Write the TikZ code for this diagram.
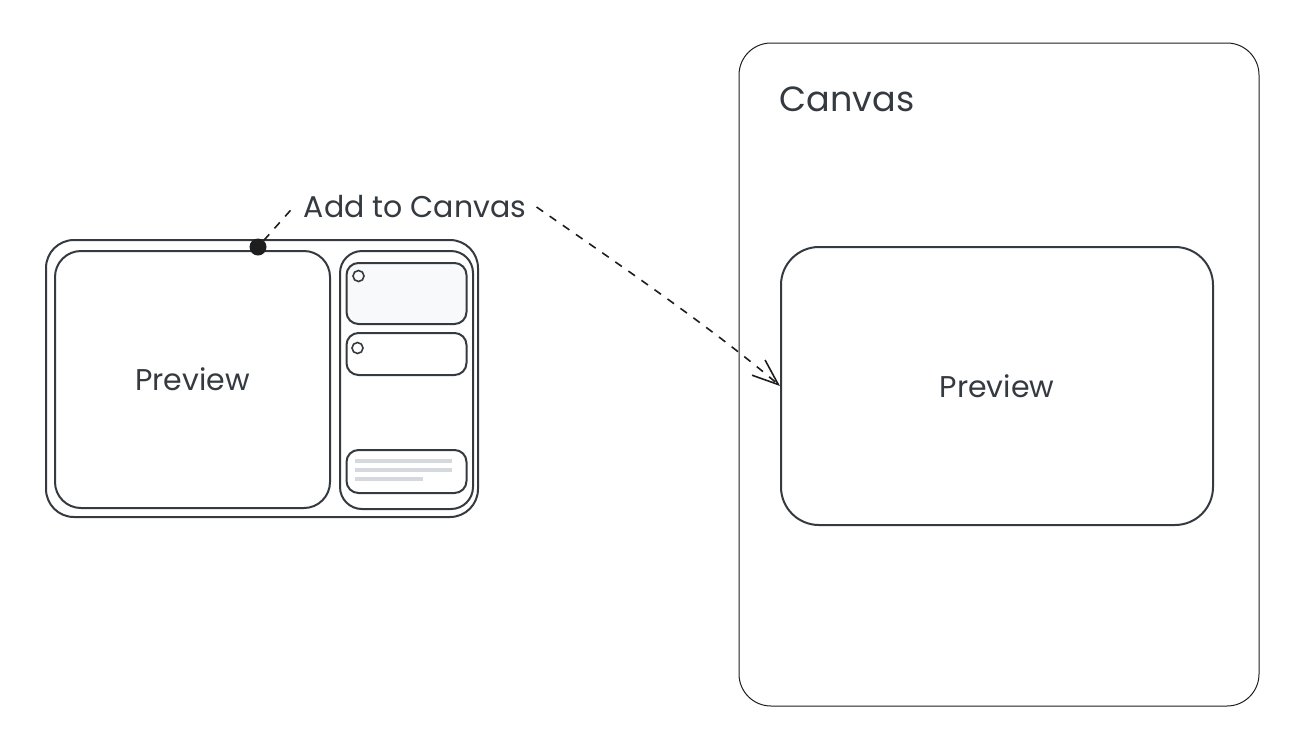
\documentclass[tikz,border=0pt]{standalone}
\usepackage{fontspec}
\setmainfont{Poppins}
\usepackage{tikz}
\usetikzlibrary{arrows.meta,positioning}
\definecolor{Ink}   {HTML}{343A40}
\definecolor{Dark}  {HTML}{1E1E1E}
\definecolor{CardBg}{HTML}{F8F9FA}
\definecolor{BarGr} {HTML}{D5D8DC}

\begin{document}
\begin{tikzpicture}[x=0.5pt,y=-0.5pt,
  shell/.style={draw=Ink,line width=1pt,rectangle,rounded corners=14pt,
    minimum width=216pt,minimum height=138.5pt,inner sep=0pt},
  pane/.style={draw=Ink,line width=1pt,rectangle,rounded corners=13pt,
    font=\fontsize{15}{18}\selectfont\color{Ink},inner sep=0pt},
  card/.style={draw=Ink,line width=1pt,rectangle,rounded corners=6pt,
    minimum width=60pt,inner sep=0pt},
  knob/.style={draw=Ink,line width=0.8pt,circle,minimum size=5.5pt,inner sep=0pt},
  bar/.style={draw=BarGr,line width=2pt},
  pin/.style={circle,fill=Dark,minimum size=8.5pt,inner sep=0pt},
  canvasbox/.style={draw=Dark,line width=0.5pt,rectangle,rounded corners=16pt,
    minimum width=260pt,minimum height=331.5pt,inner sep=0pt},
  link/.style={draw=Dark,line width=0.8pt,dash pattern=on 4pt off 4pt},
  arr/.style={link,-{Straight Barb[length=13pt,width=10pt]}},
  node distance=4pt
]
\useasboundingbox (0,0) rectangle (1306,750);
% app window
\node[shell](app) at (262,378.5){};
\node[pane,minimum width=137.5pt,minimum height=128.5pt,anchor=north west](prev) at (54,250){Preview};
\node[pane,rounded corners=11pt,minimum width=66.5pt,minimum height=129pt,anchor=north west](side) at (339,250){};
\node[card,fill=CardBg,minimum height=30.5pt,below=6pt of side.north](c1){};
\node[card,minimum height=21pt,below=3.5pt of c1](c2){};
\node[card,minimum height=21.5pt,above=8pt of side.south](c3){};
\node[knob] at ([shift={(13,14)}]c1.north west){};
\node[knob] at ([shift={(12,16)}]c2.north west){};
\draw[bar]([shift={(9,12)}]c3.north west) -- ++(97,0);
\draw[bar]([shift={(9,21)}]c3.north west) -- ++(97,0);
\draw[bar]([shift={(9,30)}]c3.north west) -- ++(68,0);
% canvas
\node[canvasbox](cv) at (999,374.5){};
\node[font=\fontsize{17.5}{21}\selectfont\color{Ink},inner sep=0pt,
  below right=22pt and 20.5pt of cv.north west](cvtitle){Canvas};
\node[pane,rounded corners=19pt,minimum width=216pt,minimum height=139pt](cpv) at (997,386){Preview};
% drag connector
\node[pin](dot) at (258,247){};
\node[font=\fontsize{15}{18}\selectfont\color{Ink},inner sep=5pt](lbl) at (415,207){Add to Canvas};
\draw[link](dot)--(lbl.west);
\draw[arr](lbl.east) .. controls +(70,49) and +(-70,-60) .. (cpv.west);
\end{tikzpicture}
\end{document}
